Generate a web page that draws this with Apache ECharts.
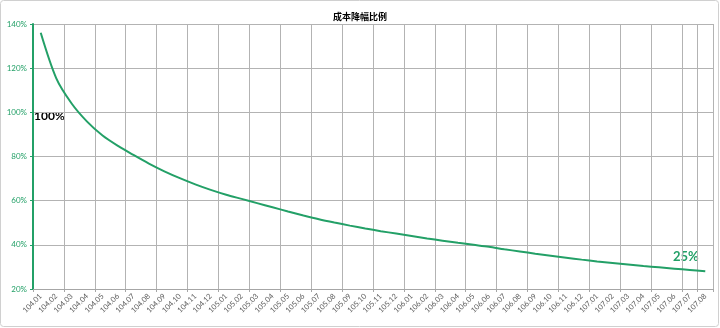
<!DOCTYPE html>
<html>
<head>
<meta charset="utf-8">
<script src="https://cdn.jsdelivr.net/npm/echarts@6/dist/echarts.min.js"></script>
<style>html,body{margin:0;padding:0;background:#fff}#c{width:720px;height:328px}</style>
</head>
<body>
<div id="c"></div>
<script>
const title = '成本降幅比例';
const categories = [
  '104.01','104.02','104.03','104.04','104.05','104.06','104.07','104.08','104.09','104.10','104.11','104.12',
  '105.01','105.02','105.03','105.04','105.05','105.06','105.07','105.08','105.09','105.10','105.11','105.12',
  '106.01','106.02','106.03','106.04','106.05','106.06','106.07','106.08','106.09','106.10','106.11','106.12',
  '107.01','107.02','107.03','107.04','107.05','107.06','107.07','107.08'
];
const costRatio = [
  136, 115.5, 104, 95.8, 89.5, 84.8, 80.7, 76.8, 73.3, 70.2, 67.4, 64.9,
  62.7, 60.8, 58.9, 57.0, 55.1, 53.3, 51.6, 50.1, 48.7, 47.4, 46.2, 45.1,
  44.0, 42.9, 41.9, 40.9, 40.0, 39.1, 38.0, 37.0, 36.0, 35.1, 34.2, 33.3,
  32.5, 31.8, 31.1, 30.4, 29.8, 29.2, 28.6, 28.0
];
const yTicks = { min: 20, max: 140, interval: 20 };
const notes = [{ text: '100%' }, { text: '25%' }];

const green = '#23a067';
const font = 'Lato, "Noto Sans CJK SC", sans-serif';
const chart = echarts.init(document.getElementById('c'));
chart.setOption({
  animation: false,
  backgroundColor: '#fff',
  title: {
    text: title, left: 'center', top: 8,
    textStyle: { fontSize: 9, fontWeight: 'bold', color: '#000', fontFamily: font }
  },
  grid: { left: 33, right: 7, top: 24, bottom: 39, containLabel: false },
  xAxis: {
    type: 'category', data: categories, boundaryGap: true,
    axisLine: { lineStyle: { color: '#a6a6a6', width: 1 } },
    axisTick: { show: true, interval: 1, length: 3, lineStyle: { color: '#a6a6a6' } },
    axisLabel: { interval: 0, rotate: 45, fontSize: 7.5, color: '#595959', fontFamily: font, margin: 6 },
    splitLine: { show: true, interval: 1, lineStyle: { color: '#b3b3b3', width: 1 } }
  },
  yAxis: {
    type: 'value', min: yTicks.min, max: yTicks.max, interval: yTicks.interval,
    axisLine: { show: true, lineStyle: { color: green, width: 2 } },
    axisTick: { show: true, length: 3, lineStyle: { color: green } },
    axisLabel: { formatter: '{value}%', fontSize: 8, color: green, fontFamily: font, margin: 6 },
    splitLine: { show: true, lineStyle: { color: '#b3b3b3', width: 1 } }
  },
  series: [{
    type: 'line', data: costRatio, smooth: 0.3, symbol: 'none',
    lineStyle: { color: green, width: 2 }
  }],
  graphic: [
    { type: 'rect', shape: { x: 0.5, y: 0.5, width: 718, height: 326, r: 3 }, style: { fill: 'none', stroke: '#d0d0d0', lineWidth: 1 }, silent: true },
    { type: 'text', left: 34, top: 110, style: { text: notes[0].text, fontSize: 12, fontWeight: 'bold', fill: '#000', fontFamily: font } },
    { type: 'text', left: 673, top: 250, style: { text: notes[1].text, fontSize: 13, fontWeight: 'bold', fill: green, fontFamily: font } }
  ]
});
</script>
</body>
</html>
